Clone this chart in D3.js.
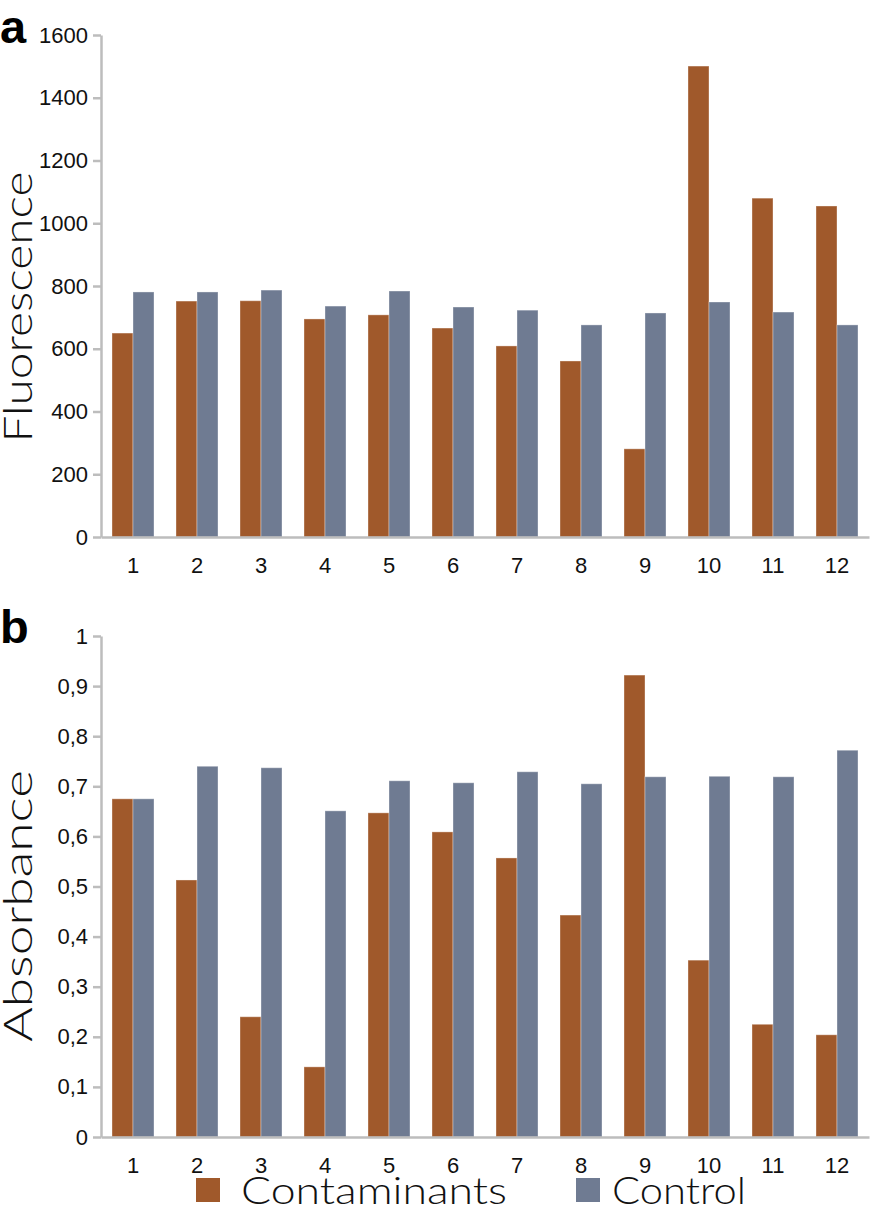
<!DOCTYPE html>
<html>
<head>
<meta charset="utf-8">
<script src="https://cdn.jsdelivr.net/npm/d3@7"></script>
<style>
  body { margin: 0; background: #fff; }
  svg { display: block; }
  .tick text { font-family: "Liberation Sans", Arial, sans-serif; font-size: 22px; fill: #111; }
  .axis .domain { stroke: #bdbdbd; stroke-width: 2.5; }
  .axis .tick line { stroke: #bdbdbd; stroke-width: 2.5; }
  .title { font-family: Lato, "Open Sans", sans-serif; font-weight: 300; fill: #111; }
  .panel { font-family: "Liberation Sans", Arial, sans-serif; font-weight: bold; font-size: 47px; fill: #000; }
</style>
</head>
<body>
<svg width="886" height="1207"></svg>
<script>
var wells = ["1", "2", "3", "4", "5", "6", "7", "8", "9", "10", "11", "12"];
var series = ["Contaminants", "Control"];
var colors = ["#a0592b", "#6f7b92"];

// panel a, fluorescence
var fluoContaminants = [650, 752, 753, 695, 708, 666, 609, 561, 281, 1501, 1080, 1055];
var fluoControl = [781, 781, 787, 736, 784, 733, 723, 676, 714, 749, 717, 676];

// panel b, absorbance
var absContaminants = [0.675, 0.513, 0.240, 0.140, 0.647, 0.609, 0.557, 0.443, 0.922, 0.353, 0.225, 0.204];
var absControl = [0.675, 0.740, 0.737, 0.651, 0.711, 0.707, 0.729, 0.705, 0.719, 0.720, 0.719, 0.772];

var svg = d3.select("svg");

var x0 = d3.scaleBand().domain(wells).range([101, 869]).padding(0);
var x1 = d3.scaleBand().domain(series).range([11, 53]).padding(0);

function panel(opts) {
  var g = svg.append("g");
  var y = d3.scaleLinear().domain(opts.domain).range([opts.bottom, opts.top]);

  var rows = wells.map(function(w, i) {
    return { well: w, values: [opts.a[i], opts.b[i]] };
  });

  var grp = g.selectAll("g.grp")
    .data(rows)
    .enter().append("g")
      .attr("class", "grp")
      .attr("transform", function(d) { return "translate(" + x0(d.well) + ",0)"; });

  grp.selectAll("rect")
    .data(function(d) { return d.values.map(function(v, j) { return { key: series[j], v: v, j: j }; }); })
    .enter().append("rect")
      .attr("x", function(d) { return x1(d.key); })
      .attr("width", x1.bandwidth())
      .attr("y", function(d) { return y(d.v); })
      .attr("height", function(d) { return opts.bottom - y(d.v); })
      .attr("fill", function(d) { return colors[d.j]; })
      .attr("stroke", "#ffffff")
      .attr("stroke-opacity", 0.35)
      .attr("stroke-width", 1);

  g.append("g")
      .attr("class", "axis")
      .attr("transform", "translate(101,0)")
      .call(d3.axisLeft(y).ticks(opts.ticks).tickSize(8).tickSizeOuter(0).tickPadding(5).tickFormat(opts.format));

  g.append("g")
      .attr("class", "axis")
      .attr("transform", "translate(0," + opts.bottom + ")")
      .call(d3.axisBottom(x0).tickSize(0).tickSizeOuter(0).tickPadding(20));

  g.append("text")
      .attr("class", "title")
      .attr("transform", "translate(" + 32 + "," + opts.titleY + ") rotate(-90)")
      .attr("text-anchor", "middle")
      .attr("font-size", 40)
      .attr("textLength", opts.titleLen)
      .attr("lengthAdjust", "spacingAndGlyphs")
      .text(opts.title);

  g.append("text")
      .attr("class", "panel")
      .attr("x", 0)
      .attr("y", opts.labelY)
      .text(opts.label);
}

panel({
  a: fluoContaminants, b: fluoControl,
  domain: [0, 1600], top: 35, bottom: 537, ticks: 8,
  format: d3.format("d"),
  title: "Fluorescence", titleY: 307, titleLen: 271,
  label: "a", labelY: 43
});

panel({
  a: absContaminants, b: absControl,
  domain: [0, 1], top: 636, bottom: 1137, ticks: 10,
  format: function(d) { return d === 0 ? "0" : d === 1 ? "1" : d3.format(".1f")(d).replace(".", ","); },
  title: "Absorbance", titleY: 906, titleLen: 272,
  label: "b", labelY: 643
});

// legend
var legendX = [196, 576];
var legendTextX = [241, 612];
var legendLen = [266, 134];
var leg = svg.append("g").selectAll("g")
  .data(series)
  .enter().append("g");
leg.append("rect")
    .attr("x", function(d, i) { return legendX[i]; })
    .attr("y", 1178)
    .attr("width", 24)
    .attr("height", 24)
    .attr("fill", function(d, i) { return colors[i]; });
leg.append("text")
    .attr("class", "title")
    .attr("x", function(d, i) { return legendTextX[i]; })
    .attr("y", 1204)
    .attr("font-size", 37)
    .attr("textLength", function(d, i) { return legendLen[i]; })
    .attr("lengthAdjust", "spacingAndGlyphs")
    .text(function(d) { return d; });
</script>
</body>
</html>
